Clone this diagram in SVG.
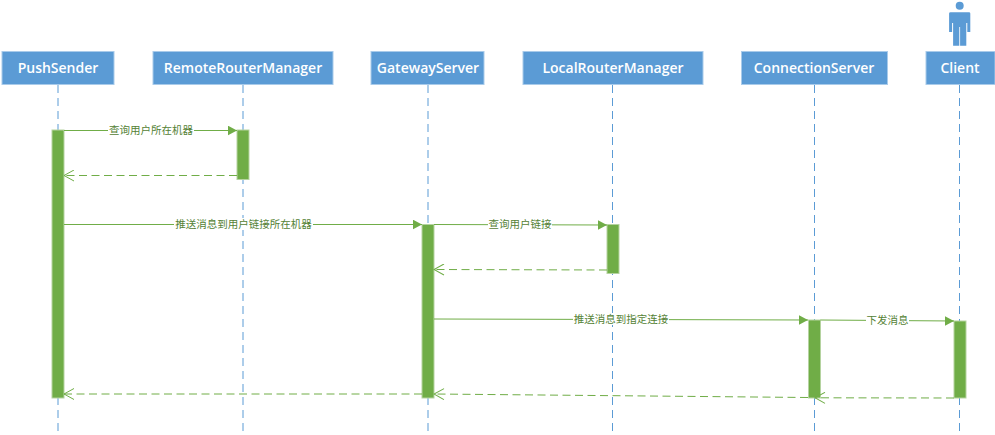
<svg xmlns="http://www.w3.org/2000/svg" width="995" height="435" viewBox="0 0 995 435">
<style>
.box{fill:#5b9bd5;stroke:#a9cbea;stroke-width:1}
.name{font-family:"Open Sans","DejaVu Sans",sans-serif;font-size:14px;font-weight:600;fill:#fff;text-anchor:middle}
.life{stroke:#5b9bd5;stroke-width:1;stroke-dasharray:8 5;fill:none}
.bar{fill:#70ad47;stroke:#b5d3a0;stroke-width:1}
.msg{stroke:#70ad47;stroke-width:1;fill:none}
.ret{stroke:#70ad47;stroke-width:1;stroke-dasharray:8 4.500;fill:none}
.lbl{font-family:"Noto Sans CJK SC",sans-serif;font-size:10.5px;fill:#548235;text-anchor:middle}
.bg{fill:#fff}
</style>
<defs>
<marker id="solid" markerUnits="userSpaceOnUse" markerWidth="10" markerHeight="10" refX="9" refY="5" orient="auto"><path d="M0 0.2L9 5L0 9.800Z" fill="#70ad47"/></marker>
<marker id="open" markerUnits="userSpaceOnUse" markerWidth="12" markerHeight="12" refX="11" refY="6" orient="auto"><path d="M1 0.500L11 6L1 11.500" fill="none" stroke="#70ad47" stroke-width="1"/></marker>
</defs>
<g id="lifelines">
<path class="life" d="M58 85V434"/><path class="life" d="M243 85V434"/><path class="life" d="M428 85V434"/><path class="life" d="M612.500 85V434"/><path class="life" d="M814.500 85V434"/><path class="life" d="M959.500 85V434"/>
</g>
<g id="node-pushsender"><rect class="box" x="2" y="51.500" width="112" height="33"/><text class="name" x="58" y="73">PushSender</text></g>
<g id="node-remoterouter"><rect class="box" x="153" y="51.500" width="180" height="33"/><text class="name" x="243" y="73">RemoteRouterManager</text></g>
<g id="node-gateway"><rect class="box" x="371" y="51.500" width="113" height="33"/><text class="name" x="428" y="73">GatewayServer</text></g>
<g id="node-localrouter"><rect class="box" x="523" y="51.500" width="180" height="33"/><text class="name" x="613" y="73">LocalRouterManager</text></g>
<g id="node-connection"><rect class="box" x="741.500" y="51.500" width="146" height="33"/><text class="name" x="814" y="73">ConnectionServer</text></g>
<g id="node-client"><rect class="box" x="926" y="51.500" width="69" height="33"/><text class="name" x="960" y="73">Client</text>
<g id="actor" fill="#5b9bd5"><circle cx="959.700" cy="5.700" r="4"/><path d="M950.500 12.300H969Q970.300 12.300 970.300 13.600V32H967.300V23H966.300V45.700H960.100V27H959.300V45.700H953.100V23H952.100V32H949.100V13.600Q949.100 12.300 950.500 12.300Z"/></g></g>
<g id="bars">
<rect class="bar" x="52" y="130" width="12" height="268"/>
<rect class="bar" x="237" y="130" width="12" height="49.500"/>
<rect class="bar" x="422" y="224.500" width="12" height="173.500"/>
<rect class="bar" x="607" y="224.500" width="12" height="49"/>
<rect class="bar" x="808.500" y="320" width="12" height="78"/>
<rect class="bar" x="954" y="321" width="12" height="77"/>
</g>
<g id="connectors">
<path class="msg" d="M64 130.500H237" marker-end="url(#solid)"/>
<path class="ret" d="M237 175.500H64" marker-end="url(#open)"/>
<path class="msg" d="M64 224.500H422" marker-end="url(#solid)"/>
<path class="msg" d="M434 224.500L607 225" marker-end="url(#solid)"/>
<path class="ret" d="M607 270L434 269.500" marker-end="url(#open)"/>
<path class="msg" d="M434 319L808 320" marker-end="url(#solid)"/>
<path class="msg" d="M820.500 320L954 321" marker-end="url(#solid)"/>
<path class="ret" d="M954 398L815 397.800" marker-end="url(#open)"/>
<path class="ret" d="M808 397.500L434 394" marker-end="url(#open)"/>
<path class="ret" d="M422 394H64" marker-end="url(#open)"/>
</g>
<g id="labels">
<rect class="bg" x="108" y="124" width="86" height="12"/><text class="lbl" x="151" y="134">查询用户所在机器</text>
<rect class="bg" x="174" y="218" width="139" height="12"/><text class="lbl" x="243.500" y="228">推送消息到用户链接所在机器</text>
<rect class="bg" x="488" y="218" width="64" height="12"/><text class="lbl" x="520" y="228">查询用户链接</text>
<rect class="bg" x="573" y="313" width="96" height="12"/><text class="lbl" x="621" y="323">推送消息到指定连接</text>
<rect class="bg" x="866" y="314" width="43" height="12"/><text class="lbl" x="887.500" y="324">下发消息</text>
</g>
</svg>
